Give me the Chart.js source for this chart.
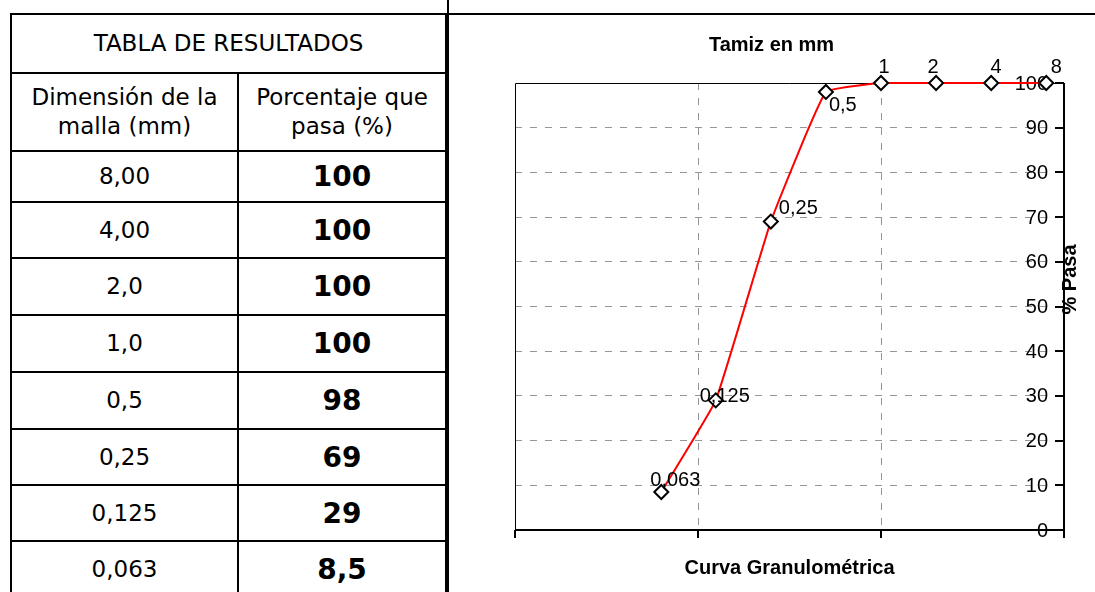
<!DOCTYPE html>
<html>
<head>
<meta charset="utf-8">
<script src="https://cdn.jsdelivr.net/npm/chart.js@4.4.1/dist/chart.umd.min.js"></script>
<style>
html,body{margin:0;padding:0;background:#fff;width:1095px;height:592px;overflow:hidden;}
#wrap{position:relative;width:1095px;height:592px;background:#fff;}
.hl{position:absolute;height:2px;background:#000;}
.vl{position:absolute;width:2px;background:#000;}
.cell{position:absolute;display:flex;align-items:center;justify-content:center;text-align:center;
  font-family:"DejaVu Sans",sans-serif;font-size:23px;color:#000;line-height:29px;}
.num{font-weight:bold;font-size:28px;}
canvas{position:absolute;left:450px;top:15px;}
</style>
</head>
<body>
<div id="wrap"><canvas id="c" width="645" height="577"></canvas></div>
<script>
// ---------- data ----------
const tableTitle = "TABLA DE RESULTADOS";
const tableHeaders = ["Dimensión de la<br>malla (mm)", "Porcentaje que<br>pasa (%)"];
const sizeText = ["8,00", "4,00", "2,0", "1,0", "0,5", "0,25", "0,125", "0,063"];
const passText = ["100", "100", "100", "100", "98", "69", "29", "8,5"];

const sieveSizes = [0.063, 0.125, 0.25, 0.5, 1, 2, 4, 8];
const percentPassing = [8.5, 29, 69, 98, 100, 100, 100, 100];
const pointLabels = ["0,063", "0,125", "0,25", "0,5", "1", "2", "4", "8"];
const yTickValues = [0, 10, 20, 30, 40, 50, 60, 70, 80, 90, 100];
const xGridValues = [0.01, 0.1, 1, 10];

const chartTitleTop = "Tamiz en mm";
const chartTitleBottom = "Curva Granulométrica";
const yAxisTitle = "% Pasa";

// ---------- table (HTML) ----------
const wrap = document.getElementById('wrap');
function add(cls, style, html) {
  const d = document.createElement('div');
  d.className = cls;
  Object.assign(d.style, style);
  if (html !== undefined) d.innerHTML = html;
  wrap.appendChild(d);
  return d;
}
const rowLines = [13, 72, 150, 201, 257, 314, 371, 428, 484, 540, 597];
const colL = 10, colM = 237, colR = 445;
add('hl', {left: colL + 'px', top: '13px', width: (1095 - colL) + 'px'});
for (let i = 1; i < rowLines.length; i++) {
  add('hl', {left: colL + 'px', top: rowLines[i] + 'px', width: (colR - colL + 2) + 'px'});
}
add('vl', {left: colL + 'px', top: '13px', height: (592 - 13) + 'px'});
add('vl', {left: colM + 'px', top: rowLines[1] + 'px', height: (592 - rowLines[1]) + 'px'});
add('vl', {left: colR + 'px', top: '13px', height: (592 - 13) + 'px'});
add('vl', {left: '447px', top: '0px', height: '592px', width: '2px'});

function cellBox(x0, x1, r) {
  const t = rowLines[r] + 2, b = rowLines[r + 1];
  return {left: x0 + 'px', top: t + 'px', width: (x1 - x0) + 'px', height: (b - t) + 'px'};
}
add('cell', cellBox(colL + 2, colR, 0), tableTitle);
add('cell', cellBox(colL + 2, colM, 1), tableHeaders[0]);
add('cell', cellBox(colM + 2, colR, 1), tableHeaders[1]);
for (let i = 0; i < sizeText.length; i++) {
  add('cell', cellBox(colL + 2, colM, i + 2), sizeText[i]);
  add('cell num', cellBox(colM + 2, colR, i + 2), passText[i]);
}

// ---------- chart ----------
const gridColor = '#959595';
const labelFont = '20px "Liberation Sans", Arial, sans-serif';
const boldFont = 'bold 20px "Liberation Sans", Arial, sans-serif';
const labelOffsets = [
  [-11, -12, 'left'], [-16, -4, 'left'], [8, -13, 'left'], [3, 14, 'left'],
  [3, -16, 'center'], [-3, -16, 'center'], [5, -16, 'center'], [10, -16, 'center']
];

const excelPlugin = {
  id: 'excelLook',
  beforeDatasetsDraw(chart) {
    const {ctx, chartArea: ca} = chart;
    const xs = chart.scales.x, ys = chart.scales.y;
    const xL = Math.round(xs.getPixelForValue(xGridValues[0]));
    const xR = Math.round(xs.getPixelForValue(xGridValues[xGridValues.length - 1]));
    const yT = Math.round(ys.getPixelForValue(100));
    const yB = Math.round(ys.getPixelForValue(0));
    ctx.save();
    ctx.setLineDash([]);
    ctx.strokeStyle = '#000';
    ctx.lineWidth = 1;
    ctx.beginPath();
    ctx.moveTo(xL + 0.5, yB); ctx.lineTo(xL + 0.5, yT + 0.5); ctx.lineTo(xR, yT + 0.5);
    ctx.stroke();
    ctx.lineWidth = 2;
    ctx.beginPath();
    ctx.moveTo(xL, yB); ctx.lineTo(xR + 1, yB);
    ctx.moveTo(xR, yT); ctx.lineTo(xR, yB + 1);
    ctx.stroke();
    ctx.beginPath();
    yTickValues.forEach(v => {
      const py = Math.round(ys.getPixelForValue(v));
      ctx.moveTo(xR - 9, py); ctx.lineTo(xR, py);
    });
    xGridValues.forEach(v => {
      const px = Math.round(xs.getPixelForValue(v));
      ctx.moveTo(px, yB); ctx.lineTo(px, yB + 8);
    });
    ctx.stroke();
    ctx.fillStyle = '#000';
    ctx.font = labelFont;
    ctx.textAlign = 'right';
    ctx.textBaseline = 'middle';
    yTickValues.forEach(v => {
      ctx.fillText(String(v), xR - 16, ys.getPixelForValue(v) + 1);
    });
    ctx.font = boldFont;
    ctx.textAlign = 'center';
    ctx.textBaseline = 'alphabetic';
    const cx = (ca.left + ca.right) / 2;
    ctx.fillText(chartTitleTop, cx - 18, 36);
    ctx.fillText(chartTitleBottom, cx, 559);
    ctx.save();
    ctx.translate(xR + 12, (ca.top + ca.bottom) / 2 - 27);
    ctx.rotate(-Math.PI / 2);
    ctx.fillText(yAxisTitle, 0, 0);
    ctx.restore();
    ctx.restore();
  },
  afterDatasetsDraw(chart) {
    const {ctx} = chart;
    const meta = chart.getDatasetMeta(0);
    ctx.save();
    ctx.fillStyle = '#000';
    ctx.font = labelFont;
    ctx.textBaseline = 'middle';
    meta.data.forEach((pt, i) => {
      const [dx, dy, al] = labelOffsets[i];
      ctx.textAlign = al;
      ctx.fillText(pointLabels[i], pt.x + dx, pt.y + dy);
    });
    ctx.restore();
  }
};

new Chart(document.getElementById('c'), {
  type: 'scatter',
  data: {
    datasets: [{
      data: sieveSizes.map((s, i) => ({x: s, y: percentPassing[i]})),
      showLine: true,
      borderColor: '#FF0000',
      borderWidth: 2,
      tension: 0.1,
      pointStyle: 'rectRot',
      pointRadius: 7,
      pointHoverRadius: 7,
      pointBorderColor: '#000',
      pointBackgroundColor: '#fff',
      pointBorderWidth: 2,
      clip: false
    }]
  },
  options: {
    responsive: false,
    animation: false,
    devicePixelRatio: 1,
    layout: {padding: {left: 65, top: 68, right: 31, bottom: 62}},
    plugins: {legend: {display: false}, title: {display: false}, tooltip: {enabled: false}},
    scales: {
      x: {
        type: 'logarithmic', min: 0.01, max: 10,
        afterBuildTicks: s => { s.ticks = xGridValues.map(v => ({value: v})); },
        afterFit: s => { s.height = 0; },
        ticks: {display: false},
        grid: {
          drawTicks: false, lineWidth: 1,
          color: c => (c.tick && c.tick.value > 0.05 && c.tick.value < 5) ? gridColor : 'rgba(0,0,0,0)'
        },
        border: {display: false, dash: [7, 8]}
      },
      y: {
        type: 'linear', position: 'right', min: 0, max: 100,
        afterBuildTicks: s => { s.ticks = yTickValues.map(v => ({value: v})); },
        afterFit: s => { s.width = 0; },
        ticks: {display: false},
        grid: {
          drawTicks: false, lineWidth: 1,
          color: c => (c.tick && c.tick.value > 0 && c.tick.value < 100) ? gridColor : 'rgba(0,0,0,0)'
        },
        border: {display: false, dash: [7, 8]}
      }
    }
  },
  plugins: [excelPlugin]
});
</script>
</body>
</html>
